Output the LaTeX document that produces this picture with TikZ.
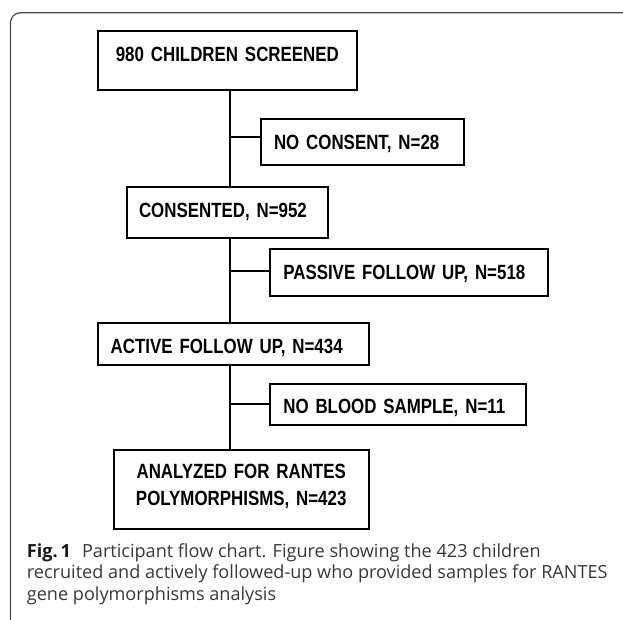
\documentclass[tikz,border=0pt]{standalone}
\usepackage{fontspec}
\newfontfamily\boxfont[FakeStretch=0.82]{Liberation Sans Bold}
\newfontfamily\capfont{Open Sans}
\begin{document}
\begin{tikzpicture}[x=1pt,y=-1pt,
  box/.style={draw=black, line width=2pt, inner ysep=0pt, anchor=north west,
    font=\boxfont\fontsize{20.6}{27}\selectfont},
  lbox/.style={box, align=left, inner xsep=13pt},
  link/.style={line width=2pt}]
\useasboundingbox (0,0) rectangle (623,620);
\draw[black!70, line width=1.2pt, rounded corners=10pt] (623,12.7) -- (10.5,12.7) -- (10.5,620);

\node[box, align=center, inner xsep=0pt, text width=259.3pt, text height=30.7pt, text depth=28.6pt] (b1) at (96.7,30) {980 CHILDREN SCREENED};
\node[lbox, text width=176.7pt, text height=30pt, text depth=15.7pt] (nc) at (260,118.3) {NO CONSENT, N=28};
\node[lbox, inner xsep=12pt, text width=176.7pt, text height=31.3pt, text depth=19.7pt] (cons) at (126,185.7) {CONSENTED, N=952};
\node[lbox, text width=252pt, text height=30pt, text depth=16.7pt] (pas) at (269.3,248.3) {PASSIVE FOLLOW UP, N=518};
\node[lbox, text width=245pt, text height=29.7pt, text depth=12.3pt] (act) at (96.7,322.3) {ACTIVE FOLLOW UP, N=434};
\node[lbox, text width=229.7pt, text height=30pt, text depth=11.3pt] (nb) at (269.3,382.7) {NO BLOOD SAMPLE, N=11};
\node[box, align=center, inner xsep=0pt, text width=255pt, text height=28pt, text depth=51.3pt] (an) at (112.7,449) {ANALYZED FOR RANTES\\POLYMORPHISMS, N=423};

\coordinate (t1) at (230,136.7);
\coordinate (t2) at (230,270.7);
\coordinate (t3) at (230,404);
\draw[link] (b1.south -| t1) -- (cons.north -| t1);
\draw[link] (cons.south -| t1) -- (act.north -| t1);
\draw[link] (act.south -| t1) -- (an.north -| t1);
\draw[link] (t1) -- (t1 -| nc.west);
\draw[link] (t2) -- (t2 -| pas.west);
\draw[link] (t3) -- (t3 -| nb.west);

\node[anchor=base west, inner sep=0pt, font=\capfont\fontsize{18.1}{21.5}\selectfont, text=black!78] (cap) at (26.7,557)
  {\vtop{\hbox{{\bfseries\color{black!90}Fig.\,1}\hspace{11pt}Participant flow chart. Figure showing the 423 children}
         \hbox{recruited and actively followed-up who provided samples for RANTES}
         \hbox{gene polymorphisms analysis}}};
\end{tikzpicture}
\end{document}
